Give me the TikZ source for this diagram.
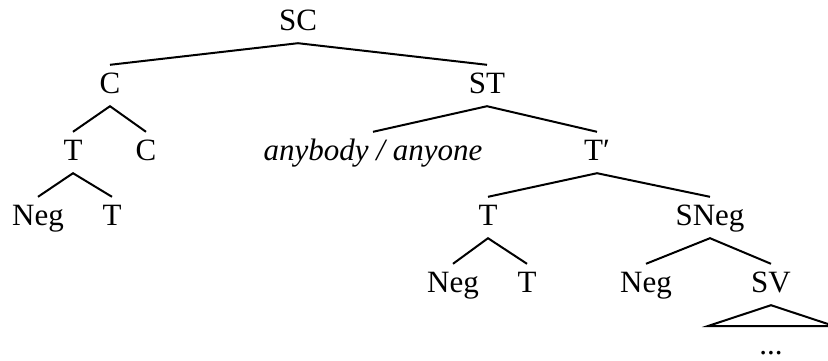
\documentclass[tikz,border=0pt]{standalone}
\usepackage{fontspec}
\setmainfont{Liberation Serif}
\begin{document}
\begin{tikzpicture}[x=1pt,y=-1pt,
  lab/.style={anchor=base,inner xsep=0pt,inner ysep=6pt,text height=22pt,text depth=7pt,font=\fontsize{31}{36}\selectfont},
  dotlab/.style={anchor=base,inner sep=0pt,text depth=0pt,font=\fontsize{31}{36}\selectfont},
  edge/.style={line width=2pt}]
\useasboundingbox (0,0) rectangle (828,360);
\node[lab] (SC) at (298,30) {SC};
\node[lab] (C1) at (110,93) {C};
\node[lab] (ST) at (487,93) {ST};
\node[lab] (T1) at (73,160) {T};
\node[lab] (C2) at (146,160) {C};
\node[lab] (any) at (373,160) {\itshape anybody / anyone};
\node[lab] (Tp) at (597,160) {T′};
\node[lab] (Neg1) at (38,225) {Neg};
\node[lab] (T2) at (112,225) {T};
\node[lab] (T3) at (488,225) {T};
\node[lab] (SNeg) at (710,225) {SNeg};
\node[lab] (Neg2) at (453,292) {Neg};
\node[lab] (T4) at (527,292) {T};
\node[lab] (Neg3) at (646,292) {Neg};
\node[lab] (SV) at (771,292) {SV};
\node[dotlab] (dots) at (771,354) {...};
\draw[edge] (C1.north) -- (SC.south) -- (ST.north);
\draw[edge] (T1.north) -- (C1.south) -- (C2.north);
\draw[edge] (Neg1.north) -- (T1.south) -- (T2.north);
\draw[edge] (any.north) -- (ST.south) -- (Tp.north);
\draw[edge] (T3.north) -- (Tp.south) -- (SNeg.north);
\draw[edge] (Neg2.north) -- (T3.south) -- (T4.north);
\draw[edge] (Neg3.north) -- (SNeg.south) -- (SV.north);
\coordinate (triL) at (708,326);
\coordinate (triR) at (834,326);
\draw[edge,line join=miter] (SV.south) -- (triL) -- (triR) -- cycle;
\end{tikzpicture}
\end{document}
